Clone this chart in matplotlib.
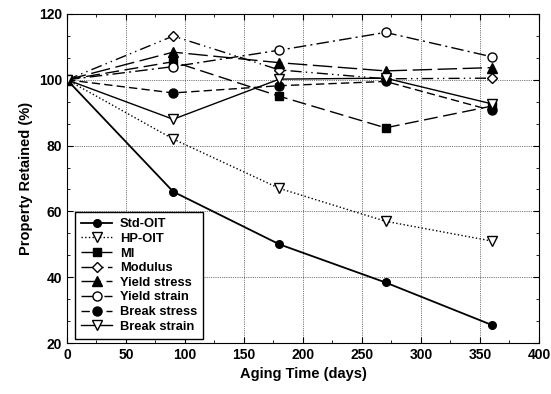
import matplotlib.pyplot as plt
from matplotlib.ticker import MultipleLocator

plt.rcParams['font.family'] = ['Liberation Sans', 'DejaVu Sans']
plt.rcParams['font.weight'] = 'bold'

days = [0, 90, 180, 270, 360]

std_oit = [100, 66, 50, 38.4, 25.5]
hp_oit = [100, 82, 67, 57, 51]
mi = [100, 105.5, 95, 85.4, 92]
modulus = [100, 113.3, 103, 100.3, 100.5]
yield_stress = [100, 108.4, 105.2, 102.7, 103.7]
yield_strain = [100, 104, 109, 114.4, 107]
break_stress = [100, 96, 98.2, 99.5, 90.7]
break_strain = [100, 88, 100.2, 100.5, 92.7]

fig = plt.figure(figsize=(5.51, 3.94), dpi=100)
ax = fig.add_axes([0.1216, 0.1294, 0.8564, 0.8351])

ms = 5.5
lw = 1.0
ax.plot(days, std_oit, color="black", lw=1.3, marker="o", ms=ms, label="Std-OIT")
ax.plot(days, hp_oit, color="black", lw=lw, ls=":", marker="v", ms=ms+1, mfc="white", label="HP-OIT")
ax.plot(days, mi, color="black", lw=lw, ls=(0, (10, 4)), marker="s", ms=ms, label="MI")
ax.plot(days, modulus, color="black", lw=lw, ls=(0, (8, 3, 1, 3, 1, 3)), marker="D", ms=ms, mfc="white", label="Modulus")
ax.plot(days, yield_stress, color="black", lw=lw, ls=(0, (14, 4)), marker="^", ms=ms+1, label="Yield stress")
ax.plot(days, yield_strain, color="black", lw=lw, ls=(0, (9, 3, 1.5, 3)), marker="o", ms=ms+1, mfc="white", label="Yield strain")
ax.plot(days, break_stress, color="black", lw=lw, ls=(0, (6, 3)), marker="o", ms=ms+1, label="Break stress")
ax.plot(days, break_strain, color="black", lw=lw, marker="v", ms=ms+1, mfc="white", label="Break strain")

ax.set_xlim(0, 400)
ax.set_ylim(20, 120)
ax.xaxis.set_major_locator(MultipleLocator(50))
ax.xaxis.set_minor_locator(MultipleLocator(25))
ax.yaxis.set_major_locator(MultipleLocator(20))
ax.yaxis.set_minor_locator(MultipleLocator(20 / 3))
ax.tick_params(which="both", direction="in", top=True, right=True, labelsize=10)
ax.tick_params(which="major", length=4)
ax.tick_params(which="minor", length=2.5)
ax.grid(True, which="major", color="black", ls=":", lw=0.5)

ax.set_xlabel("Aging Time (days)", fontsize=10.5, fontweight="bold")
ax.set_ylabel("Property Retained (%)", fontsize=10.5, fontweight="bold")

leg = ax.legend(loc="lower left", bbox_to_anchor=(0.004, -0.006), fontsize=9.3, frameon=True,
                fancybox=False, edgecolor="black", framealpha=1, handlelength=2.4,
                labelspacing=0.2, borderpad=0.45, handletextpad=0.6)
leg.get_frame().set_linewidth(1.0)

fig.savefig("out.png", dpi=100)
